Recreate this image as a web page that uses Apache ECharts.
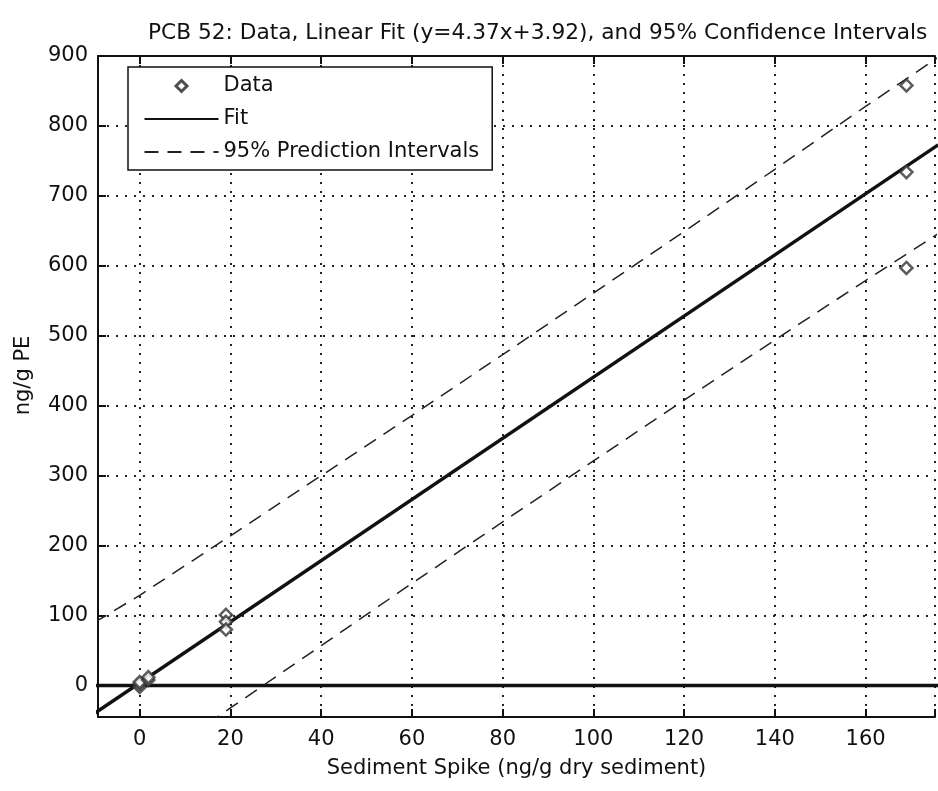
<!DOCTYPE html>
<html>
<head>
<meta charset="utf-8">
<script src="https://cdn.jsdelivr.net/npm/echarts/dist/echarts.min.js"></script>
<style>
html,body{margin:0;padding:0;background:#fff;}
#chart{width:938px;height:791px;}
</style>
</head>
<body>
<div id="chart"></div>
<script>
// ---- data ----
const titleText = 'PCB 52: Data, Linear Fit (y=4.37x+3.92), and 95% Confidence Intervals';
const xName = 'Sediment Spike (ng/g dry sediment)';
const yName = 'ng/g PE';
const xRange = [-9.2, 175.3];
const yRange = [-45, 900];

// measured data points [spike, PE]
const dataPoints = [
  [0, -2], [0, 2], [0, 5], [1.9, 8], [1.9, 12],
  [19, 101], [19, 91], [19, 80],
  [169, 858], [169, 734], [169, 597]
];
// fitted line end points (y = 4.37x + 3.92)
const fitLine = [[-10, -39.8], [176, 773.0]];
// upper / lower 95% prediction interval read along the x axis
const piX     = [-10, 0, 20, 40, 60, 80, 100, 120, 140, 160, 176];
const piUpper = [90, 129, 214, 300, 386, 473, 561, 649, 738, 828, 898];
const piLower = [-168, -121, -32, 57, 146, 234, 321, 408, 494, 579, 646];
// horizontal zero reference line
const zeroLine = [[-10, 0], [176, 0]];

const font = 'DejaVu Sans, Liberation Sans, sans-serif';
const pair = (xs, ys) => xs.map((x, i) => [x, ys[i]]);
const hideOdd = step => v => (Math.abs(v / step - Math.round(v / step)) < 1e-6 ? String(Math.round(v)) : '');
// legend diamond icon: invisible move points keep the 74x12 box so the diamond is not stretched
const diamondIcon = 'path://M0,0M74,12M37,0.5L42.5,6L37,11.5L31.5,6Z';

const chart = echarts.init(document.getElementById('chart'), null, {renderer: 'canvas'});
chart.setOption({
  animation: false,
  backgroundColor: '#fff',
  title: {
    text: titleText,
    left: 143, top: 17,
    textStyle: {fontFamily: font, fontSize: 21.7, fontWeight: 'normal', color: '#111'}
  },
  legend: {
    orient: 'vertical',
    left: 128, top: 67,
    padding: [7, 13, 6, 15],
    itemWidth: 74, itemHeight: 12, itemGap: 9,
    borderColor: '#111', borderWidth: 1.5, backgroundColor: '#fff',
    textStyle: {fontFamily: font, fontSize: 21, color: '#111', lineHeight: 24},
    data: [
      {name: 'Data', icon: diamondIcon, itemStyle: {color: '#fff', borderColor: '#222', borderWidth: 3}},
      {name: 'Fit', itemStyle: {opacity: 0}},
      {name: '95% Prediction Intervals', itemStyle: {opacity: 0}}
    ]
  },
  grid: {left: 98, right: 0, top: 56, bottom: 74, containLabel: false},
  xAxis: [{
    type: 'value', min: xRange[0], max: xRange[1], splitNumber: 9,
    name: xName, nameLocation: 'middle', nameGap: 41,
    nameTextStyle: {fontFamily: font, fontSize: 21, color: '#111'},
    axisLine: {onZero: false, lineStyle: {color: '#111', width: 2}},
    axisTick: {inside: true, length: 8, lineStyle: {color: '#111', width: 2}},
    axisLabel: {fontFamily: font, fontSize: 21, color: '#111', margin: 12, formatter: hideOdd(20)},
    splitLine: {show: true, lineStyle: {color: '#222', width: 2, type: [2, 7]}}
  }, {
    type: 'value', position: 'top', min: xRange[0], max: xRange[1], splitNumber: 9,
    axisLine: {onZero: false, lineStyle: {color: '#111', width: 2}},
    axisTick: {inside: true, length: 8, lineStyle: {color: '#111', width: 2}},
    axisLabel: {show: false}, splitLine: {show: false}
  }],
  yAxis: {
    type: 'value', min: yRange[0], max: yRange[1], splitNumber: 9,
    name: yName, nameLocation: 'middle', nameGap: 64, nameRotate: 90,
    nameTextStyle: {fontFamily: font, fontSize: 21, color: '#111', padding: [0, 0, 0, 22]},
    axisLine: {onZero: false, lineStyle: {color: '#111', width: 2}},
    axisTick: {inside: true, length: 8, lineStyle: {color: '#111', width: 2}},
    axisLabel: {fontFamily: font, fontSize: 21, color: '#111', margin: 10, formatter: hideOdd(100)},
    splitLine: {show: true, lineStyle: {color: '#222', width: 2, type: [2, 7]}}
  },
  series: [
    {
      name: 'zero', type: 'line', data: zeroLine, symbol: 'none', silent: true,
      lineStyle: {color: '#111', width: 3.5}, z: 2
    },
    {
      name: 'Fit', type: 'line', data: fitLine, symbol: 'none',
      lineStyle: {color: '#111', width: 3.5}, itemStyle: {color: '#111'}, z: 3
    },
    {
      name: '95% Prediction Intervals', type: 'line', data: pair(piX, piUpper), symbol: 'none',
      lineStyle: {color: '#222', width: 1.5, type: [14, 9]}, itemStyle: {color: '#222'}, z: 3
    },
    {
      name: '95% Prediction Intervals', type: 'line', data: pair(piX, piLower), symbol: 'none',
      lineStyle: {color: '#222', width: 1.5, type: [14, 9]}, itemStyle: {color: '#222'}, z: 3
    },
    {
      name: 'Data', type: 'scatter', data: dataPoints, symbol: 'diamond', symbolSize: 12,
      itemStyle: {color: '#fff', borderColor: '#333', borderWidth: 2.5}, z: 4
    }
  ]
});
</script>
</body>
</html>
